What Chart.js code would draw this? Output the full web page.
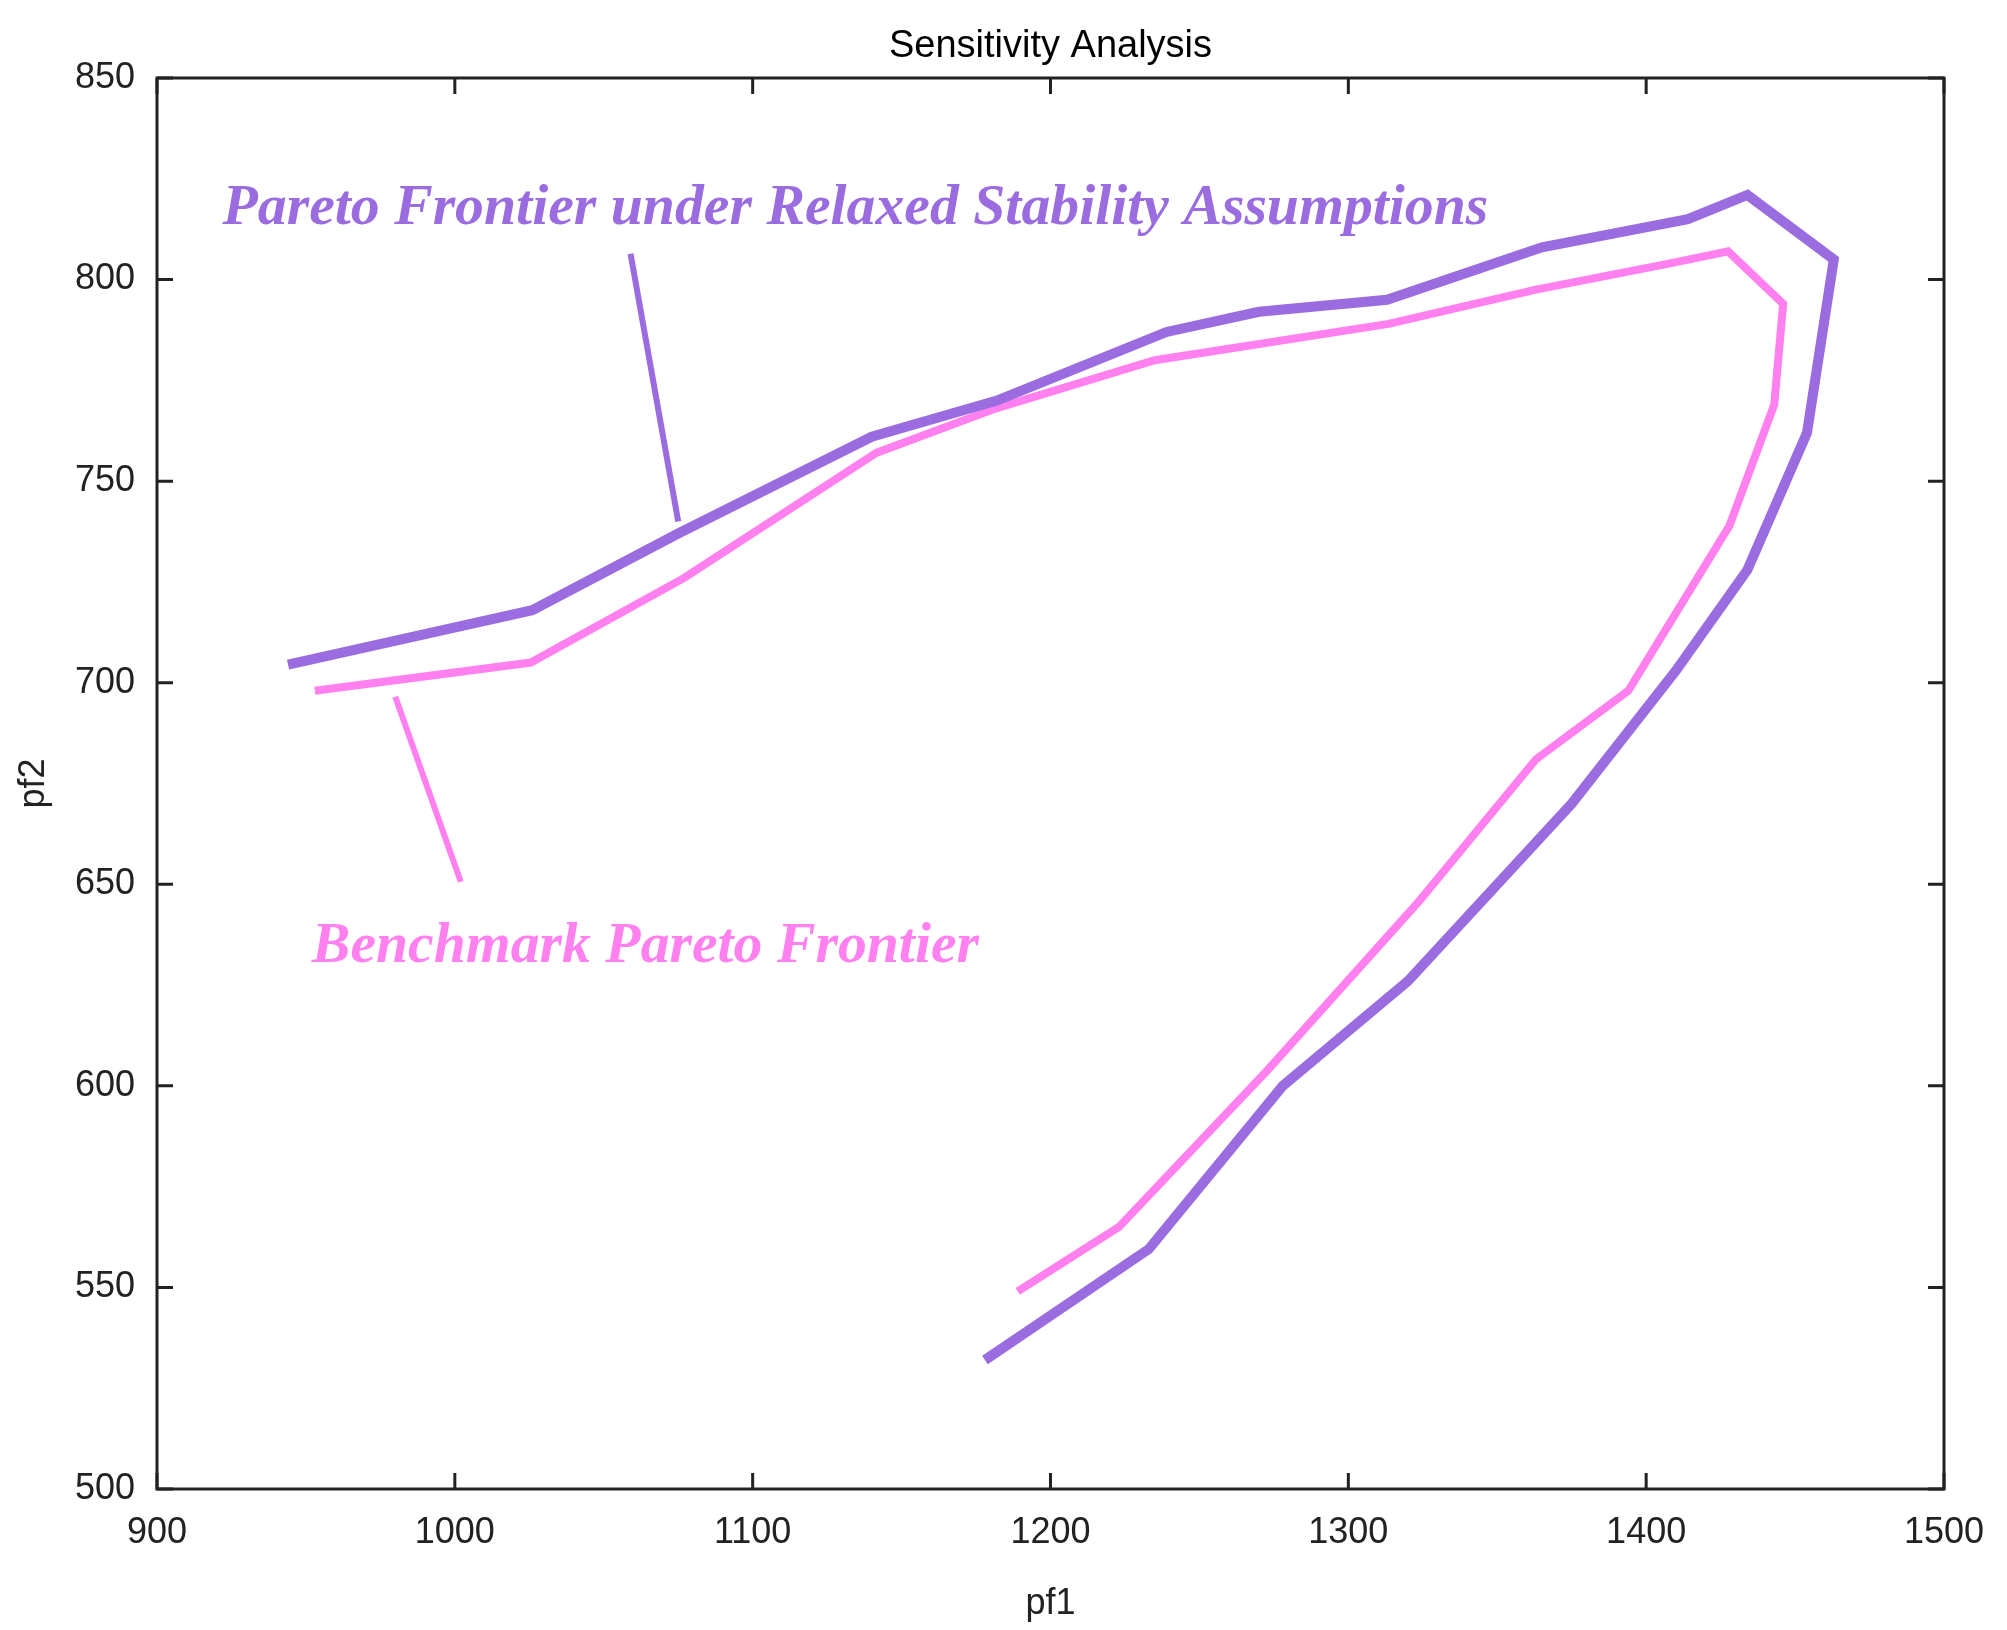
<!DOCTYPE html>
<html>
<head>
<meta charset="utf-8">
<script src="https://cdn.jsdelivr.net/npm/chart.js@4"></script>
<style>
  html, body { margin: 0; padding: 0; background: #fff; }
  #wrap { width: 2007px; height: 1630px; }
</style>
</head>
<body>
<div id="wrap"><canvas id="chart"></canvas></div>
<script>
// relaxed frontier (purple)
var relaxedX = [944, 1026, 1075, 1140, 1182, 1239, 1270, 1313, 1365, 1414, 1434, 1463, 1454, 1434, 1410, 1375, 1320, 1278, 1233, 1178];
var relaxedY = [704.5, 718, 737, 761, 770, 787, 792, 795, 808, 815, 821, 805, 762, 728, 703, 670, 626, 600, 559.5, 532];
// benchmark frontier (pink)
var benchX = [953, 1025.5, 1077, 1141.5, 1181.5, 1235, 1313.5, 1363, 1408, 1427.5, 1446, 1443, 1428, 1394, 1363, 1324, 1273, 1223, 1189];
var benchY = [698, 705, 726, 757, 768, 780, 789, 797.5, 804, 807, 794, 769, 739, 698, 681, 646, 604, 565, 549];
// leader lines for labels
var relaxedLeadX = [1059, 1075];
var relaxedLeadY = [806.4, 740];
var benchLeadX = [980, 1002];
var benchLeadY = [696.5, 650.6];

var xTicks = [900, 1000, 1100, 1200, 1300, 1400, 1500];
var yTicks = [500, 550, 600, 650, 700, 750, 800, 850];

var purple = "#9b6be0";
var pink = "#ff80ee";
var sans = "Arial, 'Liberation Sans', sans-serif";

function pts(xs, ys) {
  return xs.map(function (x, i) { return { x: x, y: ys[i] }; });
}

var framePlugin = {
  id: "frame",
  afterDraw: function (chart) {
    var ctx = chart.ctx, a = chart.chartArea;
    var sx = chart.scales.x, sy = chart.scales.y;
    ctx.save();
    ctx.strokeStyle = "#222";
    ctx.lineWidth = 3;
    ctx.strokeRect(a.left, a.top, a.right - a.left, a.bottom - a.top);
    ctx.beginPath();
    xTicks.forEach(function (v) {
      var p = sx.getPixelForValue(v);
      ctx.moveTo(p, a.bottom); ctx.lineTo(p, a.bottom - 16);
      ctx.moveTo(p, a.top); ctx.lineTo(p, a.top + 16);
    });
    yTicks.forEach(function (v) {
      var p = sy.getPixelForValue(v);
      ctx.moveTo(a.left, p); ctx.lineTo(a.left + 16, p);
      ctx.moveTo(a.right, p); ctx.lineTo(a.right - 16, p);
    });
    ctx.stroke();

    ctx.fillStyle = "#000";
    ctx.font = "38px " + sans;
    ctx.textAlign = "center";
    ctx.textBaseline = "middle";
    ctx.fillText("Sensitivity Analysis", (a.left + a.right) / 2, 47);

    ctx.font = "italic bold 58px 'Liberation Serif', 'Times New Roman', serif";
    ctx.textAlign = "left";
    ctx.fillStyle = purple;
    var t1 = "Pareto Frontier under Relaxed Stability Assumptions";
    var x1 = sx.getPixelForValue(922), w1 = sx.getPixelForValue(1347) - x1;
    ctx.fillText(t1, x1, sy.getPixelForValue(817.5), w1);
    ctx.fillStyle = pink;
    var x2 = sx.getPixelForValue(952), w2 = sx.getPixelForValue(1176) - x2;
    ctx.fillText("Benchmark Pareto Frontier", x2, sy.getPixelForValue(634.5), w2);
    ctx.restore();
  }
};

function line(data, color, width) {
  return {
    data: data, showLine: true, borderColor: color, borderWidth: width,
    pointRadius: 0, tension: 0, fill: false
  };
}

new Chart(document.getElementById("chart"), {
  type: "scatter",
  data: {
    datasets: [
      line(pts(relaxedX, relaxedY), purple, 10),
      line(pts(benchX, benchY), pink, 8),
      line(pts(relaxedLeadX, relaxedLeadY), purple, 6),
      line(pts(benchLeadX, benchLeadY), pink, 6)
    ]
  },
  options: {
    responsive: true,
    maintainAspectRatio: false,
    animation: false,
    layout: { padding: { left: 0, right: 63, top: 78, bottom: 0 } },
    plugins: { legend: { display: false }, tooltip: { enabled: false } },
    scales: {
      x: {
        type: "linear", min: 900, max: 1500,
        afterBuildTicks: function (s) { s.ticks = xTicks.map(function (v) { return { value: v }; }); },
        afterFit: function (s) { s.height = 141; },
        grid: { display: false },
        border: { display: false },
        ticks: { color: "#222", font: { size: 36, family: sans }, padding: 14, maxRotation: 0,
          callback: function (v) { return String(v); } },
        title: { display: true, text: "pf1", color: "#222", font: { size: 36, family: sans }, padding: { top: 2 } }
      },
      y: {
        type: "linear", min: 500, max: 850,
        afterBuildTicks: function (s) { s.ticks = yTicks.map(function (v) { return { value: v }; }); },
        afterFit: function (s) { s.width = 157; },
        grid: { display: false },
        border: { display: false },
        ticks: { color: "#222", font: { size: 36, family: sans }, padding: 14,
          callback: function (v) { return String(v); } },
        title: { display: true, text: "pf2", color: "#222", font: { size: 36, family: sans }, padding: { bottom: 0, top: 12 } }
      }
    }
  },
  plugins: [framePlugin]
});
</script>
</body>
</html>
